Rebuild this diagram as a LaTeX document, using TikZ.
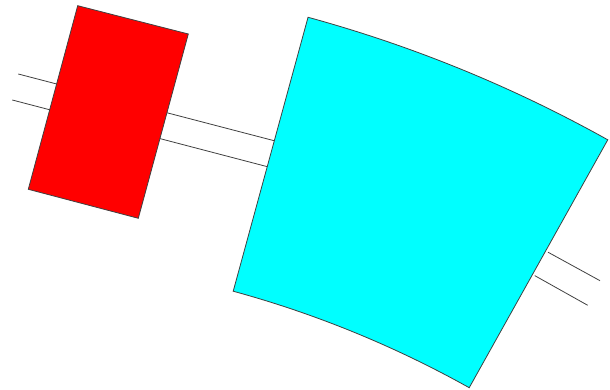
\documentclass[tikz,border=0pt]{standalone}
\usetikzlibrary{calc}
\definecolor{edge}{HTML}{404040}
\definecolor{aqua}{HTML}{00FFFF}
\definecolor{pure red}{HTML}{FF0000}
\tikzset{
  pipeline/.style={draw=edge, line width=0.8pt},
  redblock/.style={fill=pure red, draw=edge, line width=0.8pt},
  cyanblock/.style={fill=aqua, draw=edge, line width=0.8pt, line join=miter}
}
\begin{document}
\begin{tikzpicture}[x=1pt,y=1pt]
\useasboundingbox (0,0) rectangle (610,390);
% pipe lines (left, straight)
\coordinate (lu0) at (18.3,316);
\coordinate (lu1) at (276,248.8);
\coordinate (ll0) at (12.3,290);
\coordinate (ll1) at (269.3,222.8);
\draw[pipeline] (lu0) -- (lu1);
\draw[pipeline] (ll0) -- (ll1);
% pipe lines (right)
\coordinate (ru0) at (548,137.8);
\coordinate (ru1) at (600,109.3);
\coordinate (rl0) at (534.7,114.4);
\coordinate (rl1) at (587.7,84.7);
\draw[pipeline] (ru0) -- (ru1);
\draw[pipeline] (rl0) -- (rl1);
% red block
\coordinate (r1) at (77.7,384.3);
\coordinate (r2) at (188.3,356);
\coordinate (r3) at (138.3,171.7);
\coordinate (r4) at (28.3,200.7);
\draw[redblock] (r1) -- (r2) -- (r3) -- (r4) -- cycle;
% cyan annular sector
\coordinate (c) at (-44,-916);
\draw[cyanblock] ($(c)+(74.72:1336)$) arc[start angle=74.72, end angle=60.8, radius=1336]
  -- ($(c)+(60.8:1052)$) arc[start angle=60.8, end angle=74.72, radius=1052] -- cycle;
\end{tikzpicture}
\end{document}
